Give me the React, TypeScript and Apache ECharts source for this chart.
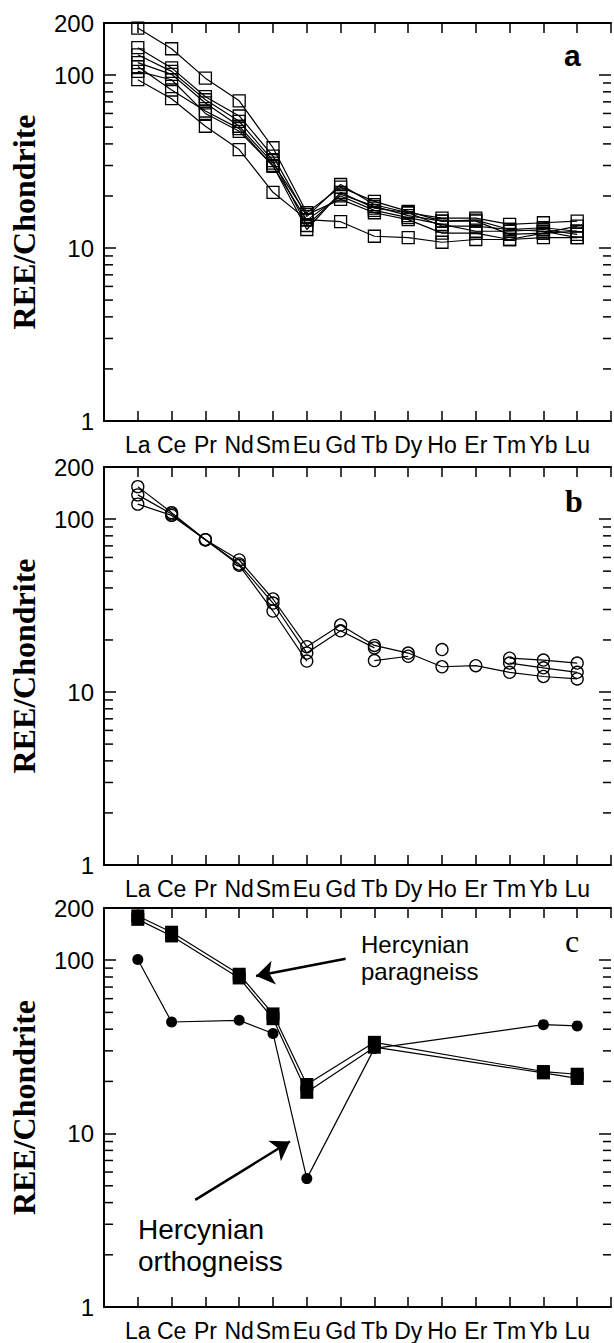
import React, { useEffect, useRef } from "react";
import * as echarts from "echarts";

const elements = ["La", "Ce", "Pr", "Nd", "Sm", "Eu", "Gd", "Tb", "Dy", "Ho", "Er", "Tm", "Yb", "Lu"];
const minorTickValues = [2, 3, 4, 5, 6, 7, 8, 9, 20, 30, 40, 50, 60, 70, 80, 90];
const yMin = 1;
const yMax = 200;

// Panel a: open squares
const sampleA1 = [187, 142, 96, 71, 38, 16.0, 22.5, 18.6, 16.3, 14.3, 14.5, 12.8, 13.1, 12.5];
const sampleA2 = [144, 110, 75, 58, 34, 15.2, 23.3, 17.8, 16.0, 14.9, 14.9, 13.7, 14.0, 14.3];
const sampleA3 = [131, 105, 72, 54, 32, 13.5, 20.5, 17.4, 15.4, 14.3, 14.3, 12.0, 12.2, 12.5];
const sampleA4 = [118, 101, 69, 50.6, 31, 15.6, 19.1, 16.0, 14.6, 12.2, 12.2, 11.2, 12.2, 13.4];
const sampleA5 = [105, 94, 60, 47.3, 30, 12.8, 21.0, 17.0, 16.0, 13.4, 13.4, 12.8, 12.5, 11.5];
const sampleA6 = [112, 82, 62, 49, 29.7, 14.5, 20.0, 16.5, 15.0, 13.7, 12.5, 12.5, 12.8, 12.0];
const sampleA7 = [94, 73, 50.6, 37.1, 21.0, 14.6, 14.2, 11.7, 11.5, 10.8, 11.2, 11.2, 11.5, 11.5];

// Panel b: open circles (null = not analysed)
const sampleB1 = [154, 109, 76, 58, 34.5, 18.3, 24.4, 18.6, 16.8, 14.0, 14.2, 13.0, 12.3, 11.9];
const sampleB2 = [138, 107, 76, 55, 32.7, 16.8, 22.6, 18.0, null, 17.6, null, 15.7, 15.3, 14.7];
const sampleB3 = [122, 105, 76, 54, 29.4, 15.1, null, 15.2, 16.1, null, null, 14.7, 13.8, 13.0];

// Panel c
const paragneiss1 = [180, 145, null, 83, 49, 19.2, null, 33.6, null, null, null, null, 22.8, 22.0];
const paragneiss2 = [172, 138, null, 79, 46, 17.3, null, 31.5, null, null, null, null, 22.4, 20.8];
const orthogneiss = [101, 44, null, 45, 37.8, 5.5, null, 31, null, null, null, null, 42.5, 41.8];

// Annotation arrows, in data coordinates [element position, REE/Chondrite]
const paraArrow = [[7.15, 102], [4.5, 81]];
const orthoArrow = [[2.7, 4.15], [5.5, 9.0]];

const SANS = '"Liberation Sans", Arial, sans-serif';
const SERIF = '"Liberation Serif", "Times New Roman", serif';

const toPairs = (arr: (number | null)[]) =>
  arr.map((v, i) => (v == null ? [i + 1, "-"] : [i + 1, v]));
const toPairsSkip = (arr: (number | null)[]) =>
  arr.map((v, i) => (v == null ? null : [i + 1, v])).filter((p) => p !== null);

const grids = [
  { left: 104, width: 511, top: 23, height: 398 },
  { left: 104, width: 511, top: 467, height: 398 },
  { left: 104, width: 511, top: 908, height: 399 },
];

export default function App() {
  const ref = useRef<HTMLDivElement>(null);
  useEffect(() => {
    if (!ref.current) return;
    const chart = echarts.init(ref.current, null, { renderer: "svg" });

    const xAxes: any[] = [];
    const yAxes: any[] = [];
    const series: any[] = [];

    grids.forEach((_, k) => {
      xAxes.push({
        type: "value",
        gridIndex: k,
        min: 0,
        max: 15,
        interval: 1,
        position: "bottom",
        axisLine: { onZero: false, lineStyle: { color: "#000", width: 2 } },
        axisTick: { inside: true, length: 10, lineStyle: { color: "#000", width: 1.5 } },
        axisLabel: {
          formatter: (v: number) => elements[v - 1] ?? "",
          fontSize: 23,
          fontFamily: SANS,
          color: "#000",
          margin: 12,
        },
        splitLine: { show: false },
      });
      xAxes.push({
        type: "value",
        gridIndex: k,
        min: 0,
        max: 15,
        interval: 1,
        position: "top",
        axisLine: { onZero: false, lineStyle: { color: "#000", width: 2 } },
        axisTick: { inside: true, length: 10, lineStyle: { color: "#000", width: 1.5 } },
        axisLabel: { show: false },
        splitLine: { show: false },
      });
      yAxes.push({
        type: "log",
        logBase: 10,
        gridIndex: k,
        min: yMin,
        max: yMax,
        position: "left",
        axisLine: { onZero: false, lineStyle: { color: "#000", width: 2 } },
        axisTick: { inside: true, length: 12, lineStyle: { color: "#000", width: 1.5 } },
        axisLabel: {
          formatter: (v: number) => String(Math.round(v)),
          fontSize: 24,
          fontFamily: SANS,
          color: "#000",
          margin: 10,
        },
        splitLine: { show: false },
        name: "REE/Chondrite",
        nameLocation: "middle",
        nameRotate: 90,
        nameGap: 64,
        nameTextStyle: { fontFamily: SERIF, fontWeight: "bold", fontSize: 32, color: "#000" },
      });
      yAxes.push({
        type: "log",
        logBase: 10,
        gridIndex: k,
        min: yMin,
        max: yMax,
        position: "right",
        axisLine: { show: false, onZero: false },
        axisTick: { show: true, inside: true, length: 12, lineStyle: { color: "#000", width: 1.5 } },
        axisLabel: { show: false },
        splitLine: { show: false },
      });
      series.push({
        type: "custom",
        xAxisIndex: 2 * k,
        yAxisIndex: 2 * k,
        silent: true,
        clip: false,
        data: minorTickValues.map((v) => [0, v]),
        renderItem: (params: any, api: any) => {
          const v = api.value(1);
          const l = api.coord([0, v]);
          const r = api.coord([15, v]);
          return {
            type: "group",
            children: [
              {
                type: "line",
                shape: { x1: l[0], y1: l[1], x2: l[0] + 9, y2: l[1] },
                style: { stroke: "#000", lineWidth: 1.5 },
              },
              {
                type: "line",
                shape: { x1: r[0] - 8, y1: r[1], x2: r[0], y2: r[1] },
                style: { stroke: "#000", lineWidth: 1.5 },
              },
            ],
          };
        },
      });
    });

    const openLine = (k: number, arr: (number | null)[], symbol: string, size: number) => ({
      type: "line",
      xAxisIndex: 2 * k,
      yAxisIndex: 2 * k,
      data: toPairs(arr),
      connectNulls: false,
      symbol,
      symbolSize: size,
      showAllSymbol: true,
      itemStyle: { color: "rgba(0,0,0,0)", borderColor: "#000", borderWidth: 1.3 },
      lineStyle: { color: "#000", width: 1.2 },
      emphasis: { disabled: true },
      z: 3,
    });

    [sampleA1, sampleA2, sampleA3, sampleA4, sampleA5, sampleA6, sampleA7].forEach((s) =>
      series.push(openLine(0, s, "rect", 12))
    );
    [sampleB1, sampleB2, sampleB3].forEach((s) => series.push(openLine(1, s, "circle", 12)));

    const filledLine = (arr: (number | null)[], symbol: string, size: number) => ({
      type: "line",
      xAxisIndex: 4,
      yAxisIndex: 4,
      data: toPairsSkip(arr),
      connectNulls: true,
      symbol,
      symbolSize: size,
      showAllSymbol: true,
      itemStyle: { color: "#000" },
      lineStyle: { color: "#000", width: 1.2 },
      emphasis: { disabled: true },
      z: 3,
    });
    series.push(filledLine(paragneiss1, "rect", 13));
    series.push(filledLine(paragneiss2, "rect", 13));
    const ortho: any = filledLine(orthogneiss, "circle", 11);
    ortho.markLine = {
      silent: true,
      symbol: ["none", "arrow"],
      symbolSize: 18,
      label: { show: false },
      lineStyle: { color: "#000", width: 2.5, type: "solid" },
      emphasis: { disabled: true },
      data: [
        [{ coord: paraArrow[0] }, { coord: paraArrow[1] }],
        [{ coord: orthoArrow[0] }, { coord: orthoArrow[1] }],
      ],
    };
    series.push(ortho);

    chart.setOption({
      animation: false,
      backgroundColor: "#fff",
      grid: grids,
      xAxis: xAxes,
      yAxis: yAxes,
      series,
      graphic: [
        {
          type: "text",
          left: 564,
          top: 40,
          style: { text: "a", font: `bold 30px ${SANS}`, fill: "#000" },
        },
        {
          type: "text",
          left: 565,
          top: 485,
          style: { text: "b", font: `bold 32px ${SERIF}`, fill: "#000" },
        },
        {
          type: "text",
          left: 565,
          top: 925,
          style: { text: "c", font: `32px ${SERIF}`, fill: "#000" },
        },
        {
          type: "text",
          left: 361,
          top: 931,
          style: {
            text: "Hercynian\nparagneiss",
            font: `24px ${SANS}`,
            lineHeight: 27,
            fill: "#000",
          },
        },
        {
          type: "text",
          left: 138,
          top: 1213,
          style: {
            text: "Hercynian\northogneiss",
            font: `28px ${SANS}`,
            lineHeight: 32,
            fill: "#000",
          },
        },
      ],
    });
    return () => chart.dispose();
  }, []);
  return (
    <div
      ref={ref}
      style={{ position: "absolute", left: 0, top: 0, width: 614, height: 1343 }}
    />
  );
}
